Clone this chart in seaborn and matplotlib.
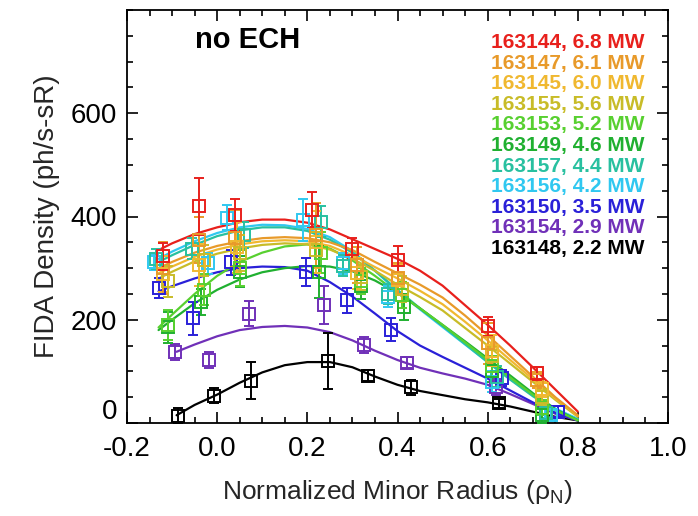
import numpy as np
import pandas as pd
import matplotlib
matplotlib.use("Agg")
import matplotlib.pyplot as plt
import matplotlib.transforms as mtransforms
import seaborn as sns
from matplotlib.ticker import MultipleLocator

# ---------------- data ----------------
SHOTS = ["163144", "163147", "163145", "163155", "163153", "163149",
         "163157", "163156", "163150", "163154", "163148"]
POWERS = ["6.8", "6.1", "6.0", "5.6", "5.2", "4.6", "4.4", "4.2", "3.5", "2.9", "2.2"]
COLORS = ["#e8201c", "#e89a2a", "#f0b830", "#c8bc28", "#58d030", "#20b030",
          "#28c0a0", "#30c8f0", "#2a20d8", "#7030b8", "#000000"]

# fitted profiles
RHO_FIT = [-0.13, -0.1, -0.05, 0.0, 0.05, 0.1, 0.15, 0.2, 0.25, 0.3, 0.35,
           0.4, 0.45, 0.5, 0.55, 0.6, 0.65, 0.7, 0.75, 0.8]
RHO_FIT_LOW = [-0.09, -0.05, 0.0, 0.05, 0.1, 0.15, 0.2, 0.25, 0.3, 0.35,
               0.4, 0.45, 0.5, 0.55, 0.6, 0.65, 0.7, 0.75, 0.8]
FIT_163144 = [335, 348, 366, 379, 389, 394, 394, 388, 375, 356, 337, 318, 295, 266, 228, 190, 150, 108, 65, 22]
FIT_163147 = [300, 312, 330, 343, 352, 358, 360, 358, 350, 335, 312, 290, 268, 243, 208, 170, 130, 90, 50, 15]
FIT_163145 = [290, 303, 322, 336, 346, 352, 354, 352, 343, 325, 302, 280, 256, 230, 196, 160, 122, 85, 48, 14]
FIT_163155 = [280, 293, 313, 328, 338, 345, 348, 346, 336, 318, 295, 268, 244, 218, 184, 150, 115, 80, 45, 12]
FIT_163153 = [185, 210, 250, 285, 312, 330, 342, 346, 338, 315, 285, 252, 222, 190, 156, 122, 88, 55, 25, 5]
FIT_163149 = [180, 200, 232, 258, 278, 292, 300, 304, 303, 294, 276, 252, 222, 190, 158, 125, 92, 58, 27, 5]
FIT_163157 = [312, 325, 345, 362, 373, 379, 379, 372, 355, 330, 295, 258, 222, 188, 153, 118, 84, 52, 25, 6]
FIT_163156 = [318, 332, 352, 368, 379, 384, 383, 376, 360, 333, 295, 255, 220, 186, 152, 118, 85, 55, 28, 8]
FIT_163150 = [255, 265, 280, 292, 300, 303, 302, 295, 273, 245, 212, 178, 150, 128, 107, 86, 63, 40, 20, 5]
FIT_163154 = [138, 152, 168, 180, 186, 188, 185, 176, 160, 140, 122, 107, 96, 86, 74, 56, 37, 18, 5]
FIT_163148 = [15, 35, 55, 78, 98, 112, 118, 118, 108, 90, 74, 62, 54, 46, 40, 32, 22, 12, 5]

# measured points (rho, density, error)
RHO_163144 = [-0.12, -0.04, 0.04, 0.21, 0.30, 0.40, 0.60, 0.71]
DEN_163144 = [323, 420, 403, 413, 338, 316, 187, 96]
ERR_163144 = [26, 55, 31, 34, 21, 26, 18, 12]
RHO_163147 = [-0.12, -0.04, 0.04, 0.22, 0.31, 0.40, 0.60, 0.71]
DEN_163147 = [300, 354, 358, 364, 306, 280, 154, 83]
ERR_163147 = [50, 45, 55, 62, 35, 30, 40, 15]
RHO_163145 = [-0.12, -0.04, 0.045, 0.22, 0.31, 0.40, 0.61, 0.72]
DEN_163145 = [288, 306, 340, 350, 290, 277, 140, 65]
ERR_163145 = [35, 40, 50, 60, 30, 30, 30, 15]
RHO_163155 = [-0.11, -0.03, 0.05, 0.22, 0.32, 0.41, 0.61, 0.72]
DEN_163155 = [275, 315, 330, 335, 282, 260, 130, 50]
ERR_163155 = [30, 30, 35, 35, 25, 25, 20, 15]
RHO_163153 = [-0.11, -0.03, 0.05, 0.23, 0.32, 0.41, 0.61, 0.72]
DEN_163153 = [190, 258, 300, 330, 275, 248, 110, 30]
ERR_163153 = [29, 30, 35, 40, 25, 25, 20, 15]
RHO_163149 = [-0.11, -0.035, 0.05, 0.225, 0.32, 0.415, 0.61, 0.72]
DEN_163149 = [185, 235, 293, 293, 265, 225, 100, 15]
ERR_163149 = [30, 25, 30, 50, 25, 25, 20, 15]
RHO_163157 = [-0.135, -0.056, 0.06, 0.23, 0.28, 0.38, 0.62, 0.73]
DEN_163157 = [318, 338, 364, 390, 305, 250, 90, 20]
ERR_163157 = [20, 20, 25, 30, 20, 20, 20, 10]
RHO_163156 = [-0.14, -0.02, 0.022, 0.19, 0.28, 0.38, 0.61, 0.74]
DEN_163156 = [312, 309, 398, 393, 309, 245, 80, 15]
ERR_163156 = [15, 20, 24, 40, 20, 20, 20, 10]
RHO_163150 = [-0.128, -0.053, 0.03, 0.198, 0.287, 0.386, 0.632, 0.755]
DEN_163150 = [261, 203, 311, 293, 238, 181, 87, 22]
ERR_163150 = [19, 32, 24, 27, 24, 22, 15, 10]
RHO_163154 = [-0.093, -0.018, 0.07, 0.238, 0.325, 0.42, 0.618, 0.73]
DEN_163154 = [138, 122, 212, 229, 151, 117, 70, 20]
ERR_163154 = [15, 15, 24, 37, 15, 10, 15, 10]
RHO_163148 = [-0.087, -0.006, 0.076, 0.246, 0.334, 0.43, 0.625]
DEN_163148 = [14, 53, 82, 120, 92, 69, 38]
ERR_163148 = [15, 15, 36, 54, 10, 14, 8]

FITS = [FIT_163144, FIT_163147, FIT_163145, FIT_163155, FIT_163153, FIT_163149,
        FIT_163157, FIT_163156, FIT_163150, FIT_163154, FIT_163148]
RHOS = [RHO_163144, RHO_163147, RHO_163145, RHO_163155, RHO_163153, RHO_163149,
        RHO_163157, RHO_163156, RHO_163150, RHO_163154, RHO_163148]
DENS = [DEN_163144, DEN_163147, DEN_163145, DEN_163155, DEN_163153, DEN_163149,
        DEN_163157, DEN_163156, DEN_163150, DEN_163154, DEN_163148]
ERRS = [ERR_163144, ERR_163147, ERR_163145, ERR_163155, ERR_163153, ERR_163149,
        ERR_163157, ERR_163156, ERR_163150, ERR_163154, ERR_163148]

X_TICKS = [-0.2, 0.0, 0.2, 0.4, 0.6, 0.8, 1.0]
X_TICKLABELS = ["-0.2", "0.0", "0.2", "0.4", "0.6", "0.8", "1.0"]
Y_TICKS = [0, 200, 400, 600]

# ---------------- figure ----------------
sns.set_theme(style="ticks")
plt.rcParams["font.family"] = ["Liberation Sans", "DejaVu Sans"]
plt.rcParams["mathtext.fontset"] = "custom"
plt.rcParams["mathtext.rm"] = "Liberation Sans"

fig = plt.figure(figsize=(6.98, 5.16), dpi=100)
ax = fig.add_axes([127 / 698, 93 / 516, 541 / 698, 413 / 516])

rows = []
for shot, fit in zip(SHOTS, FITS):
    grid = RHO_FIT if len(fit) == len(RHO_FIT) else RHO_FIT_LOW
    for r, v in zip(grid, fit):
        rows.append({"shot": shot, "rho": r, "density": v})
fit_df = pd.DataFrame(rows)

# draw in reverse order so red is on top
for shot, col in reversed(list(zip(SHOTS, COLORS))):
    sub = fit_df[fit_df["shot"] == shot]
    sns.lineplot(data=sub, x="rho", y="density", color=col, lw=1.6,
                 estimator=None, sort=True, ax=ax, legend=False)

for shot, col, r, d, e in reversed(list(zip(SHOTS, COLORS, RHOS, DENS, ERRS))):
    ax.errorbar(r, d, yerr=e, fmt="s", ms=8, mfc="none", mec=col, mew=1.4,
                ecolor=col, elinewidth=1.4, capsize=3.5, capthick=1.4, zorder=3)

ax.set_xlim(-0.2, 1.0)
ax.set_ylim(0, 800)
ax.xaxis.set_minor_locator(MultipleLocator(0.05))
ax.yaxis.set_minor_locator(MultipleLocator(50))
ax.set_yticks(Y_TICKS)
ax.set_yticklabels([str(v) for v in Y_TICKS])
ax.set_xticks(X_TICKS)
ax.set_xticklabels(X_TICKLABELS)
ax.tick_params(which="both", direction="in", top=True, right=True,
               labelsize=20, colors="black", width=1.2)
ax.tick_params(which="major", length=8)
ax.tick_params(axis="x", which="major", pad=9)
ax.tick_params(axis="y", which="major", pad=7)
ax.tick_params(which="minor", length=4)
for s in ax.spines.values():
    s.set_linewidth(1.3)
    s.set_color("black")

# lift the "0" y tick label slightly, as in the reference
ylabels = ax.get_yticklabels()
ylabels[0].set_verticalalignment("bottom")
ylabels[0].set_transform(ylabels[0].get_transform() +
                         mtransforms.ScaledTranslation(0, -0.02, fig.dpi_scale_trans))

ax.set_xlabel("Normalized Minor Radius (ρ$_\\mathregular{N}$)", fontsize=19, labelpad=12)
ax.set_ylabel("FIDA Density (ph/s-sR)", fontsize=20, labelpad=8)

ax.text(0.125, 0.928, "no ECH", transform=ax.transAxes, fontsize=21,
        fontweight="bold", ha="left", va="center", color="black")

for i, (shot, pw, col) in enumerate(zip(SHOTS, POWERS, COLORS)):
    ax.text(0.957, 0.921 - i * 0.0498, f"{shot}, {pw} MW", transform=ax.transAxes,
            fontsize=15, fontweight="bold", ha="right", va="center", color=col)

fig.savefig("out.png", dpi=100)
